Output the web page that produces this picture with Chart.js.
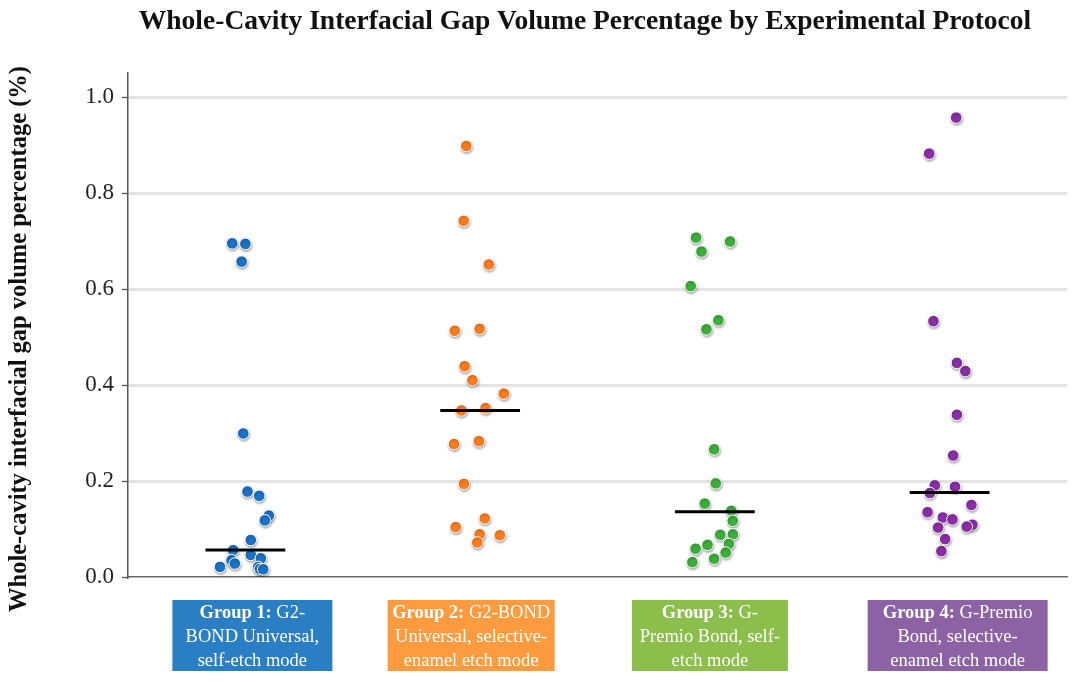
<!DOCTYPE html>
<html>
<head>
<meta charset="utf-8">
<script src="https://cdn.jsdelivr.net/npm/chart.js@4.4.1/dist/chart.umd.min.js"></script>
<style>
  html, body { margin: 0; padding: 0; background: #ffffff; }
  #wrap { width: 1078px; height: 682px; }
</style>
</head>
<body>
<div id="wrap"><canvas id="c" width="1078" height="682"></canvas></div>
<script>
// ---------------- DATA ----------------
const chartTitle = "Whole-Cavity Interfacial Gap Volume Percentage by Experimental Protocol";
const yAxisTitle = "Whole-cavity interfacial gap volume percentage (%)";
const yTickValues = [0.0, 0.2, 0.4, 0.6, 0.8, 1.0];

const categories = ["Group 1", "Group 2", "Group 3", "Group 4"];
const categoryRest = [
  ["G2-", "BOND Universal,", "self-etch mode"],
  ["G2-BOND", "Universal, selective-", "enamel etch mode"],
  ["G-", "Premio Bond, self-", "etch mode"],
  ["G-Premio", "Bond, selective-", "enamel etch mode"]
];

// values (%), with horizontal jitter (category units)
const group1Values = [0.695, 0.694, 0.657, 0.299, 0.178, 0.169, 0.128, 0.118, 0.077, 0.056, 0.046, 0.039, 0.035, 0.028, 0.021, 0.021, 0.017, 0.016];
const group1Jitter = [-0.056, 0.000, -0.016, -0.009, 0.009, 0.059, 0.100, 0.083, 0.023, -0.052, 0.023, 0.066, -0.059, -0.045, -0.108, 0.055, 0.062, 0.076];

const group2Values = [0.898, 0.742, 0.651, 0.513, 0.517, 0.439, 0.410, 0.382, 0.347, 0.352, 0.277, 0.283, 0.194, 0.122, 0.104, 0.089, 0.087, 0.072];
const group2Jitter = [-0.059, -0.070, 0.037, -0.108, -0.002, -0.066, -0.033, 0.101, -0.080, 0.023, -0.111, -0.005, -0.069, 0.020, -0.104, -0.002, 0.084, -0.012];

const group3Values = [0.707, 0.699, 0.678, 0.606, 0.535, 0.516, 0.266, 0.195, 0.153, 0.138, 0.117, 0.088, 0.089, 0.069, 0.067, 0.059, 0.051, 0.038, 0.031];
const group3Jitter = [-0.080, 0.065, -0.057, -0.103, 0.015, -0.036, -0.003, 0.004, -0.043, 0.070, 0.076, 0.023, 0.077, 0.060, -0.031, -0.082, 0.046, -0.003, -0.096];

const group4Values = [0.957, 0.882, 0.533, 0.446, 0.429, 0.338, 0.253, 0.191, 0.188, 0.175, 0.150, 0.135, 0.124, 0.120, 0.109, 0.105, 0.103, 0.079, 0.054];
const group4Jitter = [0.028, -0.087, -0.069, 0.031, 0.067, 0.031, 0.015, -0.063, 0.023, -0.084, 0.093, -0.094, -0.029, 0.012, 0.097, 0.073, -0.049, -0.019, -0.035];

const medians = [0.056, 0.347, 0.136, 0.176];

// ---------------- STYLE ----------------
const pointColors = ["#1b72c8", "#fe7c1e", "#3cae3a", "#8a2ea8"];
const boxColors = ["#2a7fc4", "#ff9b3f", "#8bbe4b", "#8c62a4"];
const boxWidths = [160, 167, 156, 180];
const boxShift = [7, -9, -5, 8];
const SERIF = "'Liberation Serif', 'Times New Roman', serif";

const allValues = [group1Values, group2Values, group3Values, group4Values];
const allJitter = [group1Jitter, group2Jitter, group3Jitter, group4Jitter];

const pointDatasets = allValues.map((vals, i) => ({
  type: 'scatter',
  label: categories[i],
  data: vals.map((v, k) => ({ x: i + allJitter[i][k], y: v })),
  backgroundColor: pointColors[i],
  borderColor: '#ffffff',
  borderWidth: 1,
  pointRadius: 5.8,
  pointHoverRadius: 5.8,
  order: 2,
  isPoints: true
}));

const medianDatasets = medians.map((m, i) => ({
  type: 'line',
  label: categories[i] + ' median',
  data: [{ x: i - 0.17, y: m }, { x: i + 0.17, y: m }],
  borderColor: '#000000',
  borderWidth: 3,
  pointRadius: 0,
  fill: false,
  order: 1
}));

const shadowPlugin = {
  id: 'shadow',
  beforeDatasetDraw(chart, args) {
    const ds = chart.data.datasets[args.index];
    if (!ds.isPoints) return;
    const ctx = chart.ctx;
    ctx.save();
    ctx.shadowColor = 'rgba(0,0,0,0.35)';
    ctx.shadowBlur = 2.5;
    ctx.shadowOffsetX = 0.5;
    ctx.shadowOffsetY = 1.5;
  },
  afterDatasetDraw(chart, args) {
    const ds = chart.data.datasets[args.index];
    if (!ds.isPoints) return;
    chart.ctx.restore();
  }
};

const labelsPlugin = {
  id: 'decor',
  afterDraw(chart) {
    const ctx = chart.ctx;
    const xs = chart.scales.x;
    const area = chart.chartArea;
    // main title
    ctx.save();
    ctx.fillStyle = '#111';
    ctx.font = "bold 27.5px " + SERIF;
    ctx.textAlign = 'center';
    ctx.textBaseline = 'middle';
    ctx.fillText(chartTitle, 585, 22);
    ctx.restore();
    // y axis title
    ctx.save();
    ctx.translate(20, 339);
    ctx.rotate(-Math.PI / 2);
    ctx.fillStyle = '#111';
    ctx.font = "bold 24.5px " + SERIF;
    ctx.textAlign = 'center';
    ctx.textBaseline = 'middle';
    ctx.fillText(yAxisTitle, 0, 0);
    ctx.restore();
    // category label boxes
    const fs = 18.5;
    categories.forEach((cat, i) => {
      const cx = xs.getPixelForValue(i) + boxShift[i];
      const w = boxWidths[i];
      const top = area.bottom + 23;
      const h = 71;
      ctx.save();
      ctx.fillStyle = boxColors[i];
      ctx.fillRect(cx - w / 2, top, w, h);
      ctx.fillStyle = '#ffffff';
      ctx.textBaseline = 'middle';
      const lines = categoryRest[i];
      const lh = 24;
      const y0 = top + 13;
      const boldTxt = cat + ': ';
      ctx.font = "bold " + fs + "px " + SERIF;
      const bw = ctx.measureText(boldTxt).width;
      ctx.font = fs + "px " + SERIF;
      const rw = ctx.measureText(lines[0]).width;
      let sx = cx - (bw + rw) / 2;
      ctx.textAlign = 'left';
      ctx.font = "bold " + fs + "px " + SERIF;
      ctx.fillText(boldTxt, sx, y0);
      ctx.font = fs + "px " + SERIF;
      ctx.fillText(lines[0], sx + bw, y0);
      ctx.textAlign = 'center';
      for (let j = 1; j < lines.length; j++) {
        ctx.fillText(lines[j], cx, y0 + j * lh);
      }
      ctx.restore();
    });
  }
};

new Chart(document.getElementById('c'), {
  data: { datasets: [...medianDatasets, ...pointDatasets] },
  options: {
    responsive: false,
    animation: false,
    devicePixelRatio: 1,
    layout: { padding: { top: 73, right: 11, bottom: 0, left: 0 } },
    plugins: {
      legend: { display: false },
      title: { display: false },
      tooltip: { enabled: false }
    },
    scales: {
      x: {
        type: 'linear',
        min: -0.5,
        max: 3.5,
        ticks: { display: false },
        grid: { display: false, drawTicks: false },
        border: { display: true, color: '#666666', width: 1.5 },
        afterFit(scale) { scale.height = 105; }
      },
      y: {
        type: 'linear',
        min: 0,
        max: 1.05,
        afterBuildTicks(scale) {
          scale.ticks = yTickValues.map(v => ({ value: v }));
        },
        ticks: {
          color: '#222',
          font: { family: SERIF, size: 23 },
          padding: 8,
          callback: (v) => Number(v).toFixed(1)
        },
        grid: {
          color: (c) => (c.tick && c.tick.value === 0 ? 'rgba(0,0,0,0)' : '#e4e4e4'),
          lineWidth: 3,
          drawTicks: true,
          tickLength: 6,
          tickColor: '#555555',
          tickWidth: 1.3
        },
        border: { display: true, color: '#555555', width: 1.5 },
        title: { display: false },
        afterFit(scale) { scale.width = 128; }
      }
    }
  },
  plugins: [shadowPlugin, labelsPlugin]
});
</script>
</body>
</html>
